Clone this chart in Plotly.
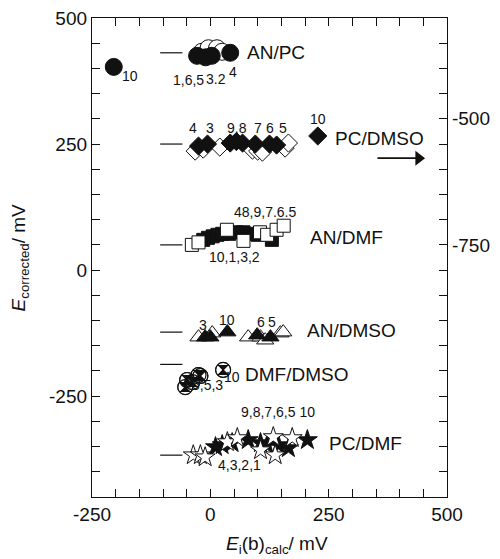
import plotly.graph_objects as go

# ---- data (mV) ----
# AN/PC (circles)
anpc_filled_x = [-204, -28, -10, 3, 42]
anpc_filled_y = [403, 425, 422, 425, 431]
anpc_open_x = [-18, -4, 14, 25]
anpc_open_y = [433, 440, 440, 433]

# PC/DMSO (diamonds)
pcdmso_filled_x = [-25, -6, 42, 55, 68, 95, 125, 140, 227]
pcdmso_filled_y = [246, 250, 252, 255, 252, 250, 250, 248, 266]
pcdmso_open_x = [-32, -15, 20, 89, 100, 110, 158, 165]
pcdmso_open_y = [236, 240, 244, 238, 236, 234, 242, 252]

# AN/DMF (squares)
andmf_filled_x = [-15, -5, 5, 15, 25, 40, 55, 70, 85, 100, 130]
andmf_filled_y = [60, 64, 67, 70, 72, 72, 75, 75, 72, 70, 60]
andmf_open_x = [-39, -25, 35, 70, 105, 120, 140, 155]
andmf_open_y = [50, 55, 80, 58, 75, 70, 80, 88]

# AN/DMSO (triangles)
andmso_filled_x = [-11, 0, 36, 99, 127]
andmso_filled_y = [-133, -133, -123, -129, -133]
andmso_open_x = [-25, 4, 80, 106, 116, 148, 154]
andmso_open_y = [-133, -125, -133, -133, -139, -125, -123]

# DMF/DMSO (crossed circles)
dmfdmso_x = [-53, -49, -38, -25, -21, 27]
dmfdmso_y = [-232, -218, -222, -208, -210, -198]

# PC/DMF (stars)
pcdmf_filled_x = [11, 25, 46, 80, 106, 120, 144, 165, 205]
pcdmf_filled_y = [-351, -347, -343, -337, -343, -347, -347, -353, -337]
pcdmf_open_x = [-36, -21, -11, 36, 57, 106, 133, 137, 173]
pcdmf_open_y = [-367, -367, -371, -341, -333, -357, -331, -367, -333]

# reference level of each solvent pair
dash_x = [-106, -59]
dash_y = [431, 250, 50, -123, -187, -367]

# arrow toward the right-hand scale
arrow_x = [353, 440]
arrow_y = [222, 222]

# axis ticks
x_labels = [-250, 0, 250, 500]
y_labels = [500, 250, 0, -250]
y2_labels = [-500, -750]
minor_step = 50

# system names: (text, x, y)
system_names = [
    ("AN/PC", 74, 431),
    ("PC/DMSO", 260, 262),
    ("AN/DMF", 207, 65),
    ("AN/DMSO", 201, -119),
    ("DMF/DMSO", 70, -208),
    ("PC/DMF", 247, -343),
]

# point index labels: (text, x, y)
index_labels = [
    ("10", -169, 384), ("1,6,5", -46, 377), ("3.2", 11, 379), ("4", 48, 393),
    ("4", -36, 282), ("3", 0, 282), ("9,8", 57, 282), ("7", 101, 282),
    ("6", 127, 282), ("5", 154, 282), ("10", 228, 300),
    ("48,9,7.6.5", 116, 115), ("10,1,3,2", 51, 26),
    ("3", -15, -109), ("10", 36, -99), ("6", 106, -103), ("5", 131, -103),
    ("10", 46, -212), ("6,5,3", -6, -228),
    ("9,8,7,6,5 10", 142, -282), ("4,3,2,1", 61, -387),
]

FONT = "Liberation Sans, Arial, sans-serif"
BLACK = "#111111"

fig = go.Figure()


def add_markers(x, y, symbol, size, filled):
    fig.add_trace(go.Scatter(
        x=x, y=y, mode="markers", showlegend=False, hoverinfo="skip",
        marker=dict(symbol=symbol, size=size,
                    color=BLACK if filled else "white",
                    line=dict(color=BLACK, width=1)),
    ))


for yv in dash_y:
    fig.add_trace(go.Scatter(
        x=dash_x, y=[yv, yv], mode="lines", showlegend=False, hoverinfo="skip",
        line=dict(color=BLACK, width=1.2),
    ))

add_markers(anpc_open_x, anpc_open_y, "circle", 17, False)
add_markers(anpc_filled_x, anpc_filled_y, "circle", 17, True)

add_markers(pcdmso_open_x, pcdmso_open_y, "diamond", 14, False)
add_markers(pcdmso_filled_x, pcdmso_filled_y, "diamond", 14, True)

add_markers(andmf_filled_x, andmf_filled_y, "square", 13, True)
add_markers(andmf_open_x, andmf_open_y, "square", 13, False)

add_markers(andmso_open_x, andmso_open_y, "triangle-up", 15, False)
add_markers(andmso_filled_x, andmso_filled_y, "triangle-up", 15, True)

# crossed circles with dark upper/lower quadrants
add_markers(dmfdmso_x, dmfdmso_y, "circle", 15, False)
fig.add_trace(go.Scatter(
    x=dmfdmso_x, y=dmfdmso_y, mode="markers", showlegend=False, hoverinfo="skip",
    marker=dict(symbol="hourglass", size=10, color=BLACK, line=dict(width=0)),
))
fig.add_trace(go.Scatter(
    x=dmfdmso_x, y=dmfdmso_y, mode="markers", showlegend=False, hoverinfo="skip",
    marker=dict(symbol="circle-x-open", size=15, color=BLACK, line=dict(color=BLACK, width=1.2)),
))

add_markers(pcdmf_filled_x, pcdmf_filled_y, "star", 15, True)
add_markers(pcdmf_open_x, pcdmf_open_y, "star", 15, False)

# arrow: shaft plus head
fig.add_trace(go.Scatter(
    x=arrow_x, y=arrow_y, mode="lines", showlegend=False, hoverinfo="skip",
    line=dict(color=BLACK, width=1.6),
))
fig.add_trace(go.Scatter(
    x=arrow_x[-1:], y=arrow_y[-1:], mode="markers", showlegend=False, hoverinfo="skip",
    marker=dict(symbol="triangle-right", size=13, color=BLACK, line=dict(width=0)),
))

# secondary (right) axis carrier
fig.add_trace(go.Scatter(x=[None], y=[None], yaxis="y2", showlegend=False, hoverinfo="skip"))

annotations = []
for text, xv, yv in system_names:
    annotations.append(dict(x=xv, y=yv, xref="x", yref="y", text=text, showarrow=False,
                            xanchor="left", yanchor="middle",
                            font=dict(family=FONT, size=19, color=BLACK)))
for text, xv, yv in index_labels:
    annotations.append(dict(x=xv, y=yv, xref="x", yref="y", text=text, showarrow=False,
                            xanchor="center", yanchor="middle",
                            font=dict(family=FONT, size=14, color=BLACK)))

# axis titles
annotations.append(dict(x=-0.203, y=0.5, xref="paper", yref="paper", textangle=-90,
                        text="<i>E</i><sub>corrected</sub>/ mV", showarrow=False,
                        xanchor="center", yanchor="middle",
                        font=dict(family=FONT, size=19, color=BLACK)))
annotations.append(dict(x=0.52, y=-0.10, xref="paper", yref="paper",
                        text="<i>E</i><sub>i</sub>(b)<sub>calc</sub>/ mV", showarrow=False,
                        xanchor="center", yanchor="middle",
                        font=dict(family=FONT, size=19, color=BLACK)))

axis_common = dict(ticks="inside", ticklen=8, tickwidth=1.2, tickcolor=BLACK,
                   showline=True, linecolor=BLACK, linewidth=1.3, showgrid=False,
                   zeroline=False, automargin=False,
                   tickfont=dict(family=FONT, size=19, color=BLACK),
                   tickmode="array",
                   minor=dict(ticks="inside", ticklen=8, tickwidth=1.2, tickcolor=BLACK,
                              tickmode="linear", tick0=0, dtick=minor_step, showgrid=False))

fig.update_layout(
    width=500, height=559,
    margin=dict(l=92, r=53, t=18, b=62),
    paper_bgcolor="white", plot_bgcolor="white",
    showlegend=False,
    annotations=annotations,
    xaxis=dict(range=[-250, 500], tickvals=x_labels, ticktext=[str(v) for v in x_labels],
               mirror="ticks", **axis_common),
    yaxis=dict(range=[-450, 500], tickvals=y_labels, ticktext=[str(v) for v in y_labels],
               **axis_common),
    yaxis2=dict(range=[-1250, -300], overlaying="y", side="right",
                tickvals=y2_labels, ticktext=[str(v) for v in y2_labels], **axis_common),
)

fig.write_html("out.html")
